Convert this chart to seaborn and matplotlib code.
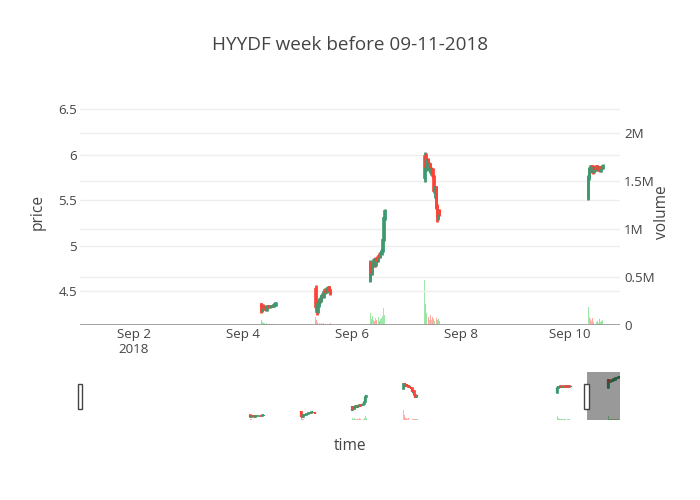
import numpy as np
import pandas as pd
import seaborn as sns
import matplotlib
matplotlib.use("Agg")
import matplotlib.pyplot as plt
import matplotlib.dates as mdates
from matplotlib.patches import Rectangle

# trading sessions (first bar 08:00, 30 min bars)
SESSIONS = ["2018-09-04", "2018-09-05", "2018-09-06", "2018-09-07", "2018-09-10", "2018-09-11"]
BARS_PER_SESSION = 14

opens = [
    # Sep 4
    4.36, 4.28, 4.34, 4.31, 4.33, 4.29, 4.32, 4.34, 4.32, 4.33, 4.34, 4.33, 4.35, 4.36,
    # Sep 5
    4.52, 4.33, 4.27, 4.36, 4.40, 4.39, 4.45, 4.43, 4.49, 4.51, 4.49, 4.54, 4.55, 4.51,
    # Sep 6
    4.62, 4.80, 4.70, 4.79, 4.84, 4.78, 4.85, 4.83, 4.88, 4.87, 4.92, 4.94, 5.06, 5.30,
    # Sep 7
    5.74, 5.98, 5.86, 5.94, 5.87, 5.90, 5.82, 5.84, 5.76, 5.60, 5.64, 5.42, 5.30, 5.38,
    # Sep 10
    5.52, 5.75, 5.84, 5.82, 5.87, 5.81, 5.85, 5.83, 5.87, 5.84, 5.86, 5.82, 5.86, 5.85,
    # Sep 11
    5.80, 6.18, 6.10, 6.14, 6.12, 6.18, 6.22, 6.20, 6.27, 6.30, 6.28, 6.35, 6.39, 6.44,
]
highs = [
    4.37, 4.36, 4.36, 4.35, 4.34, 4.33, 4.35, 4.35, 4.34, 4.35, 4.35, 4.36, 4.37, 4.38,
    4.57, 4.40, 4.38, 4.42, 4.43, 4.46, 4.48, 4.50, 4.53, 4.53, 4.55, 4.56, 4.56, 4.52,
    4.84, 4.83, 4.82, 4.86, 4.87, 4.86, 4.88, 4.89, 4.92, 4.93, 4.97, 5.08, 5.32, 5.40,
    6.03, 6.02, 5.96, 5.96, 5.92, 5.91, 5.86, 5.85, 5.78, 5.66, 5.65, 5.46, 5.40, 5.40,
    5.78, 5.86, 5.89, 5.88, 5.89, 5.86, 5.88, 5.88, 5.89, 5.87, 5.88, 5.87, 5.88, 5.90,
    6.22, 6.20, 6.16, 6.17, 6.20, 6.24, 6.25, 6.28, 6.32, 6.33, 6.37, 6.41, 6.46, 6.50,
]
lows = [
    4.26, 4.27, 4.30, 4.29, 4.28, 4.28, 4.31, 4.31, 4.31, 4.32, 4.32, 4.32, 4.34, 4.34,
    4.30, 4.24, 4.26, 4.33, 4.37, 4.38, 4.42, 4.42, 4.47, 4.48, 4.48, 4.52, 4.50, 4.46,
    4.60, 4.68, 4.68, 4.76, 4.76, 4.77, 4.82, 4.82, 4.86, 4.86, 4.90, 4.93, 5.05, 5.28,
    5.70, 5.84, 5.82, 5.85, 5.84, 5.80, 5.78, 5.74, 5.58, 5.52, 5.40, 5.26, 5.28, 5.32,
    5.50, 5.72, 5.80, 5.81, 5.79, 5.80, 5.82, 5.82, 5.83, 5.82, 5.81, 5.81, 5.84, 5.84,
    5.76, 6.08, 6.06, 6.10, 6.11, 6.16, 6.18, 6.19, 6.25, 6.26, 6.27, 6.33, 6.37, 6.42,
]
closes = [
    4.28, 4.34, 4.31, 4.33, 4.29, 4.32, 4.34, 4.32, 4.33, 4.34, 4.33, 4.35, 4.36, 4.37,
    4.33, 4.27, 4.36, 4.40, 4.39, 4.45, 4.43, 4.49, 4.51, 4.49, 4.54, 4.55, 4.51, 4.48,
    4.80, 4.70, 4.79, 4.84, 4.78, 4.85, 4.83, 4.88, 4.87, 4.92, 4.94, 5.06, 5.30, 5.38,
    5.98, 5.86, 5.94, 5.87, 5.90, 5.82, 5.84, 5.76, 5.60, 5.64, 5.42, 5.30, 5.38, 5.35,
    5.75, 5.84, 5.82, 5.87, 5.81, 5.85, 5.83, 5.87, 5.84, 5.86, 5.82, 5.86, 5.85, 5.88,
    6.18, 6.10, 6.14, 6.12, 6.18, 6.22, 6.20, 6.27, 6.30, 6.28, 6.35, 6.39, 6.44, 6.48,
]
# volume, millions of shares
volumes = [
    0.05, 0.03, 0.02, 0.02, 0.015, 0.02, 0.01, 0.015, 0.01, 0.01, 0.01, 0.01, 0.015, 0.01,
    0.08, 0.05, 0.03, 0.02, 0.015, 0.02, 0.015, 0.02, 0.01, 0.015, 0.02, 0.01, 0.015, 0.02,
    0.12, 0.06, 0.09, 0.05, 0.04, 0.07, 0.05, 0.08, 0.04, 0.06, 0.07, 0.09, 0.18, 0.10,
    0.47, 0.22, 0.12, 0.08, 0.05, 0.10, 0.05, 0.08, 0.06, 0.04, 0.07, 0.05, 0.06, 0.04,
    0.19, 0.08, 0.06, 0.04, 0.07, 0.03, 0.05, 0.03, 0.04, 0.02, 0.06, 0.03, 0.04, 0.05,
    0.20, 0.06, 0.04, 0.05, 0.03, 0.04, 0.03, 0.05, 0.04, 0.03, 0.04, 0.03, 0.05, 0.04,
]

TITLE = "HYYDF week before 09-11-2018"
PRICE_TICKS = [4.5, 5, 5.5, 6, 6.5]
VOL_TICKS = [0, 0.5, 1, 1.5, 2]
VOL_LABELS = ["0", "0.5M", "1M", "1.5M", "2M"]
X_TICKS = ["2018-09-02", "2018-09-04", "2018-09-06", "2018-09-08", "2018-09-10"]
X_LABELS = ["Sep 2\n2018", "Sep 4", "Sep 6", "Sep 8", "Sep 10"]

# axis ranges
VIEW = ("2018-09-01 00:15", "2018-09-10 22:00")
FULL = ("2018-09-01 00:15", "2018-09-11 13:30")
PRICE_RANGE = (4.127, 6.6)
VOL_RANGE = (0, 2.34)

INC = "#3D9970"
DEC = "#FF4136"
TXT = "#444444"
GRID = "#eeeeee"
PX = 0.8  # plotly px -> pt, tuned to the reference text widths

times = np.concatenate([
    pd.date_range(f"{d} 08:00", periods=BARS_PER_SESSION, freq="30min") for d in SESSIONS
])
df = pd.DataFrame({
    "t": mdates.date2num(pd.to_datetime(times)),
    "open": opens, "high": highs, "low": lows, "close": closes, "volume": volumes,
})
df["color"] = np.where(df["close"] >= df["open"], INC, DEC)

sns.set_theme(style="white")
plt.rcParams["font.family"] = ["Open Sans", "DejaVu Sans"]

BAR_W = 30 / 1440 * 0.85


def draw_candles(ax, lw=2.0):
    ax.vlines(df["t"], df["low"], df["high"], colors=df["color"], lw=lw, zorder=3)
    body = (df["close"] - df["open"]).where(lambda s: s.abs() > 0.004, 0.004)
    ax.bar(df["t"], body, bottom=df["open"], width=BAR_W, color=df["color"],
           edgecolor=df["color"], linewidth=1.2, zorder=3)


def draw_volume(ax):
    vcol = np.where(df["color"] == INC, "#2ECC40", DEC)
    ax.bar(df["t"], df["volume"], width=BAR_W, color=vcol, alpha=0.45,
           linewidth=0, zorder=2)


fig = plt.figure(figsize=(7, 5), dpi=100)
fig.patch.set_facecolor("white")

# main panel
ax = fig.add_axes([80 / 700, 175 / 500, 540 / 700, 225 / 500])
axv = ax.twinx()
ax.set_zorder(axv.get_zorder() + 1)
ax.patch.set_visible(False)

draw_volume(axv)
draw_candles(ax)

view = mdates.date2num(pd.to_datetime(list(VIEW)))
full = mdates.date2num(pd.to_datetime(list(FULL)))

for a in (ax, axv):
    a.set_xlim(*view)
    for s in a.spines.values():
        s.set_visible(False)
    a.tick_params(length=0, labelsize=12 * PX, colors=TXT)

ax.set_ylim(*PRICE_RANGE)
ax.set_yticks(PRICE_TICKS)
ax.set_yticklabels([f"{v:g}" for v in PRICE_TICKS])
ax.grid(True, axis="y", color=GRID, lw=1)
ax.tick_params(axis="y", pad=2)

axv.set_ylim(*VOL_RANGE)
axv.set_yticks(VOL_TICKS)
axv.set_yticklabels(VOL_LABELS)
axv.grid(True, axis="y", color=GRID, lw=1)
axv.tick_params(axis="y", pad=3)
axv.axhline(0, color="#999999", lw=2, zorder=5)

ax.set_xticks(mdates.date2num(pd.to_datetime(X_TICKS)))
ax.set_xticklabels(X_LABELS, linespacing=1.2)
ax.tick_params(axis="x", pad=2)
ax.grid(False, axis="x")

# range slider
axs = fig.add_axes([80 / 700, 80 / 500, 540 / 700, 48 / 500])
axsv = axs.twinx()
axs.set_zorder(axsv.get_zorder() + 1)
axs.patch.set_visible(False)
draw_volume(axsv)
draw_candles(axs, lw=1.6)
for a in (axs, axsv):
    a.set_xlim(*full)
    a.set_xticks([])
    a.set_yticks([])
    for s in a.spines.values():
        s.set_visible(False)
    a.grid(False)
axs.set_ylim(*PRICE_RANGE)
axsv.set_ylim(*VOL_RANGE)

axs.axvspan(view[1], full[1], color="black", alpha=0.4, lw=0, zorder=6)
handle_w = 5 / 51.2
for xh in (view[0], view[1]):
    axs.add_patch(Rectangle((xh - handle_w / 2, 0.23), handle_w, 0.52,
                            transform=axs.get_xaxis_transform(), facecolor="white",
                            edgecolor="#444444", lw=1, zorder=7, clip_on=False))

# text
fig.text(0.5, 1 - 45 / 500, TITLE, ha="center", va="center", fontsize=17 * PX, color=TXT)
fig.text(38 / 700, 1 - 212 / 500, "price", rotation=90, ha="center", va="center",
         fontsize=14 * PX, color=TXT)
fig.text(662 / 700, 1 - 212 / 500, "volume", rotation=90, ha="center", va="center",
         fontsize=14 * PX, color=TXT)
fig.text(350 / 700, 1 - 446 / 500, "time", ha="center", va="center",
         fontsize=14 * PX, color=TXT)

fig.savefig("out.png", dpi=100, facecolor="white")
plt.close(fig)
